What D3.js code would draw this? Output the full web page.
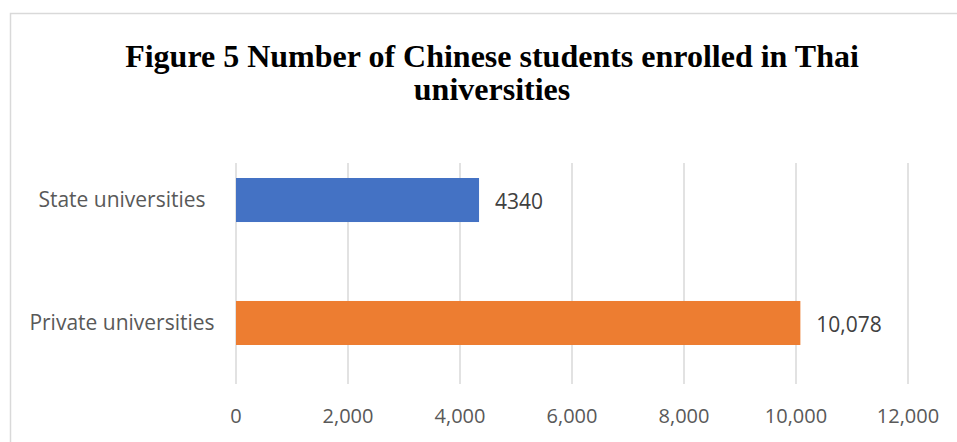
<!DOCTYPE html>
<html>
<head>
<meta charset="utf-8">
<script src="https://cdn.jsdelivr.net/npm/d3@7"></script>
<style>
  body { margin: 0; background: #fff; }
  svg { display: block; }
</style>
</head>
<body>
<svg id="chart"></svg>
<script>
const categories = ["State universities", "Private universities"];
const values = [4340, 10078];
const valueLabels = ["4340", "10,078"];
const barColors = ["#4472c4", "#ed7d31"];
const xTicks = [0, 2000, 4000, 6000, 8000, 10000, 12000];
const titleLines = ["Figure 5 Number of Chinese students enrolled in Thai", "universities"];

const width = 957, height = 442;
const svg = d3.select("#chart").attr("width", width).attr("height", height);

// chart frame
svg.append("rect")
  .attr("x", 10.5).attr("y", 13.5)
  .attr("width", 960).attr("height", 460)
  .attr("fill", "none").attr("stroke", "#d9d9d9").attr("stroke-width", 1.5);

// title, one text per line
svg.append("g").selectAll("text").data(titleLines).join("text")
  .attr("x", 492).attr("y", (d, i) => 67 + i * 33)
  .attr("text-anchor", "middle")
  .style("font-family", "'Liberation Serif', 'Times New Roman', serif")
  .style("font-weight", "bold").style("font-size", "32px").attr("fill", "#000")
  .text(d => d);

const x = d3.scaleLinear().domain([0, 12000]).range([236, 908]);
const y = d3.scaleBand().domain(categories).range([178, 345]).paddingInner(0.642).paddingOuter(0);

// gridlines
svg.append("g").selectAll("line").data(xTicks).join("line")
  .attr("x1", d => x(d)).attr("x2", d => x(d))
  .attr("y1", 163).attr("y2", 384)
  .attr("stroke", "#d9d9d9").attr("stroke-width", 1.5);

// x tick labels
svg.append("g").selectAll("text").data(xTicks).join("text")
  .attr("x", d => x(d)).attr("y", 423)
  .attr("text-anchor", "middle")
  .style("font-family", "'Open Sans', sans-serif").style("font-size", "20px")
  .attr("fill", "#595959")
  .text(d => d3.format(",")(d));

// bars
svg.append("g").selectAll("rect").data(values).join("rect")
  .attr("x", x(0))
  .attr("y", (d, i) => y(categories[i]))
  .attr("width", d => x(d) - x(0))
  .attr("height", y.bandwidth())
  .attr("fill", (d, i) => barColors[i]);

// category labels
svg.append("g").selectAll("text").data(categories).join("text")
  .attr("x", 122).attr("y", d => y(d) + y.bandwidth() / 2 + 7)
  .attr("text-anchor", "middle")
  .style("font-family", "'Open Sans', sans-serif").style("font-size", "21px")
  .attr("fill", "#595959")
  .text(d => d);

// value labels
svg.append("g").selectAll("text").data(values).join("text")
  .attr("x", d => x(d) + 16)
  .attr("y", (d, i) => y(categories[i]) + y.bandwidth() / 2 + 9)
  .style("font-family", "'Open Sans', sans-serif").style("font-size", "21px")
  .attr("fill", "#404040")
  .text((d, i) => valueLabels[i]);
</script>
</body>
</html>
